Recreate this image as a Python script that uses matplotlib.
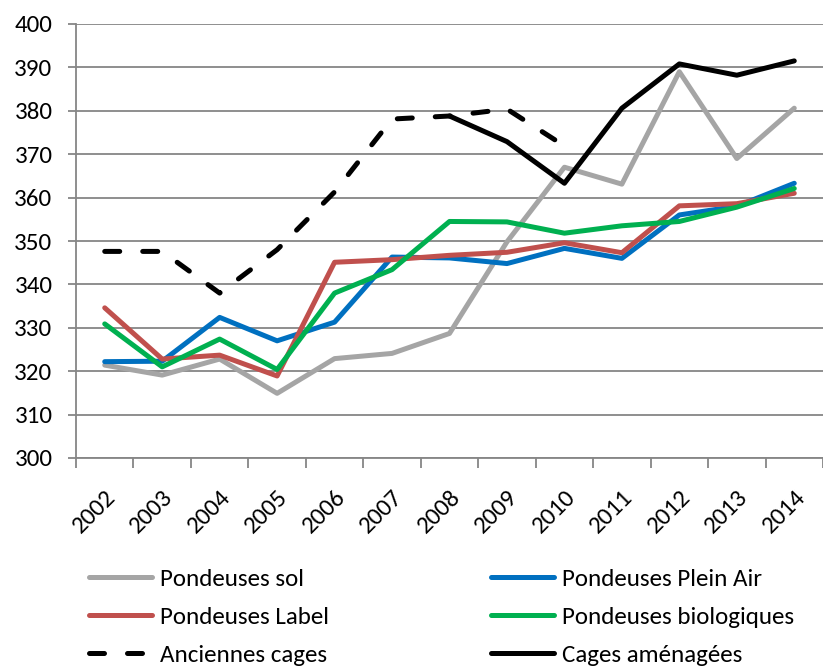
import numpy as np
import matplotlib
matplotlib.use("Agg")
import matplotlib.pyplot as plt
from matplotlib import font_manager
from matplotlib.transforms import ScaledTranslation

# --- data ---
years = ["2002", "2003", "2004", "2005", "2006", "2007", "2008",
         "2009", "2010", "2011", "2012", "2013", "2014"]

sol = [321.4, 319.1, 322.8, 314.9, 322.9, 324.1, 328.7,
       349.8, 367.0, 363.1, 389.0, 369.0, 380.6]
plein_air = [322.2, 322.3, 332.4, 327.0, 331.3, 346.3, 346.1,
             344.8, 348.3, 346.0, 356.0, 358.0, 363.3]
label = [334.6, 322.8, 323.7, 318.9, 345.1, 345.7, 346.7,
         347.4, 349.6, 347.3, 358.1, 358.6, 361.0]
bio = [330.9, 321.0, 327.4, 320.4, 338.0, 343.4, 354.5,
       354.4, 351.8, 353.5, 354.5, 357.8, 362.1]
anciennes = [347.6, 347.6, 338.0, 348.0, 361.3, 378.1, 378.8,
             380.4, 371.9, np.nan, np.nan, np.nan, np.nan]
amenagees = [np.nan, np.nan, np.nan, np.nan, np.nan, np.nan, 378.8,
             372.9, 363.3, 380.6, 390.8, 388.2, 391.5]

y_ticks = list(range(300, 401, 10))


def pick_font():
    names = {f.name for f in font_manager.fontManager.ttflist}
    for name in ["Carlito", "Liberation Sans Narrow", "Liberation Sans", "DejaVu Sans"]:
        if name in names:
            return name
    return "DejaVu Sans"


plt.rcParams["font.family"] = [pick_font(), "DejaVu Sans"]
FS = 18

W, H = 823, 670
fig = plt.figure(figsize=(W / 100, H / 100), dpi=100)
ax = fig.add_axes([76 / W, (H - 458) / H, (W - 76) / W, 434 / H])

x = np.arange(len(years))
lw = 3.6
common = dict(lw=lw, solid_capstyle="round", solid_joinstyle="round")
l_sol, = ax.plot(x, sol, color="#A5A5A5", label="Pondeuses sol", **common)
l_pa, = ax.plot(x, plein_air, color="#0070C0", label="Pondeuses Plein Air", **common)
l_lab, = ax.plot(x, label, color="#C0504D", label="Pondeuses Label", **common)
l_bio, = ax.plot(x, bio, color="#00B050", label="Pondeuses biologiques", **common)
l_anc, = ax.plot(x, anciennes, color="black", lw=lw, linestyle=(0, (3.0, 4.6)),
                 dash_capstyle="round", label="Anciennes cages")
l_am, = ax.plot(x, amenagees, color="black", label="Cages aménagées", **common)

ax.set_ylim(300, 400)
ax.set_yticks(y_ticks)
ax.set_xlim(-0.5, 12.43)
ax.set_xticks(x)
ax.set_xticklabels(years, rotation=45, ha="right", va="top",
                   rotation_mode="anchor", fontsize=FS)
shift = ScaledTranslation(-4 / 100, 0, fig.dpi_scale_trans)
for t in ax.get_xticklabels():
    t.set_transform(t.get_transform() + shift)
ax.set_xticks(np.arange(-0.5, 13, 1), minor=True)
ax.tick_params(axis="x", which="major", length=0, pad=20)
ax.tick_params(axis="x", which="minor", length=7, width=1.3, color="#868686")
ax.tick_params(axis="y", length=6, width=1.3, color="#868686", labelsize=FS, pad=11)

ax.grid(axis="y", color="#868686", lw=1.3)
ax.set_axisbelow(True)
for side in ["top", "right"]:
    ax.spines[side].set_visible(False)
for side in ["left", "bottom"]:
    ax.spines[side].set_color("#868686")
    ax.spines[side].set_linewidth(1.3)

handles = [l_sol, l_lab, l_anc, l_pa, l_bio, l_am]
fig.legend(handles=handles, labels=[h.get_label() for h in handles],
           ncol=2, loc="upper left", bbox_to_anchor=(89 / W, 1 - 568 / H),
           frameon=False, fontsize=FS, handlelength=2.52, handletextpad=0.3,
           columnspacing=6.5, labelspacing=0.66, borderpad=0, borderaxespad=0)

fig.savefig("out.png", dpi=100)
